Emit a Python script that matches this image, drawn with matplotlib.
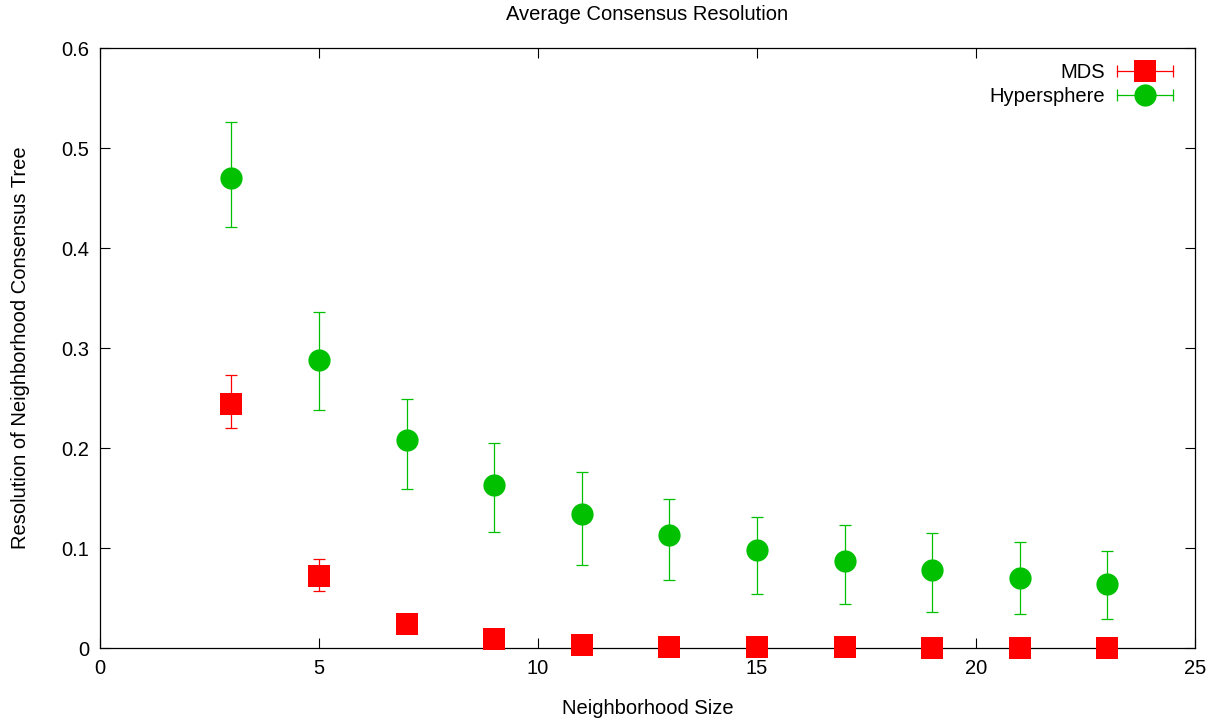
import numpy as np
import matplotlib
matplotlib.use('Agg')
import matplotlib.pyplot as plt
from matplotlib.lines import Line2D
from matplotlib.legend_handler import HandlerLine2D, HandlerTuple

# data
sizes = [3, 5, 7, 9, 11, 13, 15, 17, 19, 21, 23]

mds_mean = [0.244, 0.0725, 0.024, 0.009, 0.003, 0.0013, 0.0008, 0.0006, 0.0005, 0.0004, 0.0003]
mds_low = [0.220, 0.057, 0.021, 0.007, 0.002, 0.001, 0.0006, 0.0004, 0.0003, 0.0003, 0.0002]
mds_high = [0.273, 0.089, 0.027, 0.011, 0.004, 0.0016, 0.001, 0.0008, 0.0007, 0.0005, 0.0004]

hyp_mean = [0.470, 0.288, 0.208, 0.163, 0.134, 0.113, 0.098, 0.087, 0.078, 0.070, 0.064]
hyp_low = [0.421, 0.238, 0.159, 0.116, 0.083, 0.068, 0.054, 0.044, 0.036, 0.034, 0.029]
hyp_high = [0.526, 0.336, 0.249, 0.205, 0.176, 0.149, 0.131, 0.123, 0.115, 0.106, 0.097]

xticks = [0, 5, 10, 15, 20, 25]
yticks = [0, 0.1, 0.2, 0.3, 0.4, 0.5, 0.6]
ytick_labels = ['0', '0.1', '0.2', '0.3', '0.4', '0.5', '0.6']

red = '#ff0000'
green = '#00c000'

plt.rcParams['font.family'] = ['Liberation Sans', 'DejaVu Sans']
fs = 14.5

fig = plt.figure(figsize=(12.21, 7.21), dpi=100)
ax = fig.add_axes([100/1221, 1 - 648/721, 1095/1221, 600/721])

def plot_series(mean, low, high, color, marker):
    mean = np.array(mean)
    yerr = [mean - np.array(low), np.array(high) - mean]
    ax.errorbar(sizes, mean, yerr=yerr, fmt='none', ecolor=color,
                elinewidth=0.9, capsize=4.3, capthick=0.9, zorder=2)
    ax.plot(sizes, mean, ls='none', marker=marker, markersize=16,
            color=color, markeredgewidth=0, zorder=3, clip_on=False)

plot_series(mds_mean, mds_low, mds_high, red, 's')
plot_series(hyp_mean, hyp_low, hyp_high, green, 'o')

ax.set_xlim(0, 25)
ax.set_ylim(0, 0.6)
ax.set_xticks(xticks)
ax.set_yticks(yticks)
ax.set_yticklabels(ytick_labels)
ax.tick_params(direction='in', length=7, width=0.8, top=True, right=True,
               labelsize=fs, pad=8)
for s in ax.spines.values():
    s.set_linewidth(0.9)
    s.set_zorder(2.5)

ax.set_title('Average Consensus Resolution', fontsize=fs, pad=20)
ax.set_xlabel('Neighborhood Size', fontsize=fs, labelpad=15)
ax.set_ylabel('Resolution of Neighborhood Consensus Tree', fontsize=fs, labelpad=22)

# gnuplot style legend keys: horizontal bar with caps and marker in the middle
handles = []
hmap = {}
for color, marker in [(red, 's'), (green, 'o')]:
    caps = Line2D([], [], color=color, lw=0.9, marker='|', markersize=8.6,
                  markeredgewidth=0.9)
    pt = Line2D([], [], color=color, ls='none', marker=marker, markersize=16,
                markeredgewidth=0)
    hmap[caps] = HandlerLine2D(numpoints=2, marker_pad=0)
    hmap[pt] = HandlerLine2D(numpoints=1)
    handles.append((caps, pt))

ax.legend(handles, ['MDS', 'Hypersphere'], handler_map={**hmap, tuple: HandlerTuple(ndivide=1, pad=0)},
          loc='upper right', bbox_to_anchor=(0.980, 0.975), frameon=False,
          markerfirst=False, fontsize=fs, handlelength=2.8, handletextpad=0.6,
          labelspacing=0.25, borderpad=0, borderaxespad=0)

fig.savefig('out.png', dpi=100)
